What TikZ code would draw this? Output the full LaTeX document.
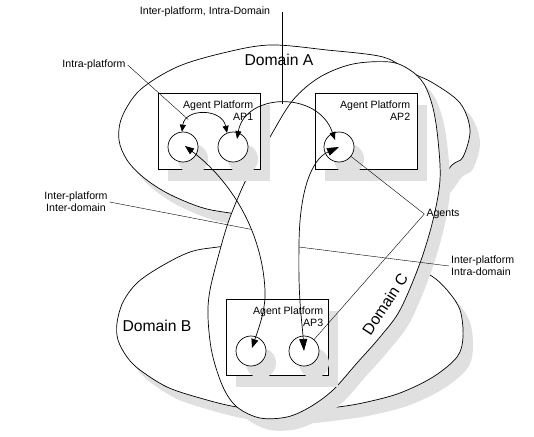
\documentclass[tikz,border=0pt]{standalone}
\usepackage{fontspec}
\setmainfont{Liberation Sans}
\usetikzlibrary{arrows.meta,shadows}
\definecolor{shadowgray}{RGB}{224,224,224}
\tikzset{
  lbl/.style={font=\fontsize{10.6}{12}\selectfont, inner sep=2pt},
  domlbl/.style={font=\fontsize{15.7}{18}\selectfont, inner sep=0pt},
  shadowed/.style={drop shadow={shadow xshift=10pt,shadow yshift=-12pt,fill=shadowgray,opacity=1}},
  domshape/.style={draw=black, fill=white, shadowed, line width=0.7pt},
  apbox/.style={draw, fill=white, shadowed, line width=0.7pt, minimum width=102pt, minimum height=76pt, inner sep=0pt},
  agent/.style={circle, draw, fill=white, shadowed, line width=0.7pt, minimum size=30pt, inner sep=0pt},
  link/.style={<->, line width=0.7pt},
  >={Triangle[length=8pt,width=6pt]},
}
\begin{document}
\begin{tikzpicture}[x=1pt,y=-1pt]
\useasboundingbox (0,0) rectangle (534,436);

% Domain B
\draw[domshape] plot[smooth cycle, tension=0.55] coordinates {(218,247) (190,252) (160,267) (137,283) (123,302) (117,323) (118,340) (127,357) (140,370) (167,387) (200,398) (237,407) (287,412) (338,407) (367,402) (400,393) (433,377) (457,357) (463,337) (460,310) (447,290) (430,275) (395,258) (320,245) (255,243)};
% Domain A
\draw[domshape] plot[smooth cycle, tension=0.55] coordinates {(230,213) (200,207) (167,193) (143,177) (127,160) (119,140) (122,117) (140,90) (177,67) (223,53) (270,45) (327,50) (383,57) (410,72) (433,83) (460,103) (470,130) (463,157) (452,165) (432,188) (380,212) (300,222)};
% Domain C
\draw[domshape] plot[smooth cycle, tension=0.55] coordinates {(270,137) (293,100) (320,77) (353,64) (390,62) (410,70) (424,84) (433,108) (438,140) (440,180) (433,220) (420,263) (400,310) (380,337) (357,363) (333,390) (310,407) (287,417) (260,418) (237,407) (223,387) (212,353) (208,317) (210,290) (220,250) (228,223) (237,200) (248,176)};

% platforms
\node[apbox] (ap1) at (209,131) {};
\node[apbox] (ap2) at (366,131) {};
\node[apbox] (ap3) at (277,337) {};

% agents
\node[agent] (c11) at (183,147) {};
\node[agent] (c12) at (233,147) {};
\node[agent] (c21) at (339,147) {};
\node[agent] (c31) at (251,351) {};
\node[agent] (c32) at (304,351) {};

\node[lbl, align=right, anchor=north east] (ap1t) at ([shift={(-5pt,-6pt)}]ap1.north east) {Agent Platform\\AP1};
\node[lbl, align=right, anchor=north east] (ap2t) at ([shift={(-5pt,-6pt)}]ap2.north east) {Agent Platform\\AP2};
\node[lbl, align=right, anchor=north east] (ap3t) at ([shift={(-3pt,-6pt)}]ap3.north east) {Agent Platform\\AP3};

% intra-platform
\draw[link, >={Triangle[length=7pt,width=6pt]}] (c11.94) .. controls (185,108) and (222,108) .. (c12.113) coordinate[pos=0.22] (iplk);
% inter-platform, intra-domain (A)
\draw[link] ([shift={(4,-8)}]c12.center) .. controls (245,93) and (318,90) .. ([shift={(-4,-7)}]c21.center) coordinate[pos=0.5] (ipid);
% inter-platform, inter-domain
\draw[link, >={Triangle[length=9pt,width=7pt]}] ([shift={(2,-1)}]c11.center) .. controls (230,180) and (262,230) .. (265,290) coordinate[pos=0.64] (ipdm) .. controls (266,310) and (258,330) .. ([shift={(1,-3)}]c31.center);
% inter-platform, intra-domain (C)
\draw[link, >={Triangle[length=12pt,width=8pt]}] (c21.center) .. controls (310,160) and (299,195) .. (299,247) coordinate (ipic) .. controls (298,300) and (302,320) .. (c32.center);

% labels
\node[lbl] (ipidt) at (205,12) {Inter-platform, Intra-Domain};
\draw (ipid) -- (ipid |- ipidt);
\node[lbl] (iplt) at (94,65) {Intra-platform};
\draw (iplt.east) -- (iplk);
\node[lbl, align=center] (ipdt) at (76,202) {Inter-platform\\Inter-domain};
\draw (ipdt.east) -- (ipdm);
\node[lbl, align=left, anchor=west] (ipct) at (449,266) {Inter-platform\\Intra-domain};
\draw (ipic) -- (ipct.west);
\node[lbl] (agt) at (443,214) {Agents};
\draw (agt.west) -- (c21);
\draw (agt.west) -- (c32);

\node[domlbl] (dA) at (279,60) {Domain A};
\node[domlbl] (dB) at (157,326) {Domain B};
\node[domlbl, rotate=57] (dC) at (385,304) {Domain C};
\end{tikzpicture}
\end{document}
